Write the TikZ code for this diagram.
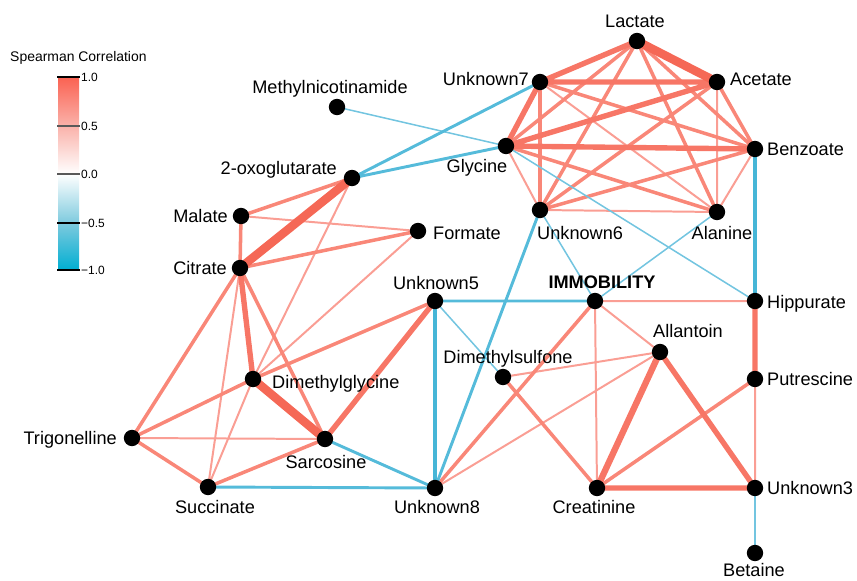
\documentclass[tikz,border=0pt]{standalone}
\usepackage{fontspec}
\setmainfont{Liberation Sans}
\usetikzlibrary{backgrounds}

\definecolor{redA}{RGB}{250,158,148}
\definecolor{redB}{RGB}{249,135,120}
\definecolor{redC}{RGB}{247,118,102}
\definecolor{redD}{RGB}{245,104,86}
\definecolor{blueA}{RGB}{115,197,224}
\definecolor{blueB}{RGB}{85,187,218}
\definecolor{blueC}{RGB}{70,182,215}
\definecolor{barTop}{RGB}{250,98,82}
\definecolor{barUp}{RGB}{250,178,170}
\definecolor{barLow}{RGB}{125,202,222}
\definecolor{barBot}{RGB}{0,174,210}

\begin{document}
\begin{tikzpicture}[x=0.03cm,y=-0.03cm,
		dot/.style={circle,fill=black,inner sep=0pt,minimum size=0.49cm},
		lab/.style={inner sep=0pt,text height=11pt,text depth=0pt,font=\fontsize{15.5}{18}\selectfont},
		tick/.style={inner sep=0pt,anchor=west,text height=7pt,text depth=0pt,font=\fontsize{10.2}{12}\selectfont},
		r1/.style={line width=1.7pt,color=redA},
		r2/.style={line width=3pt,color=redB},
		r3/.style={line width=4.6pt,color=redC},
		r4/.style={line width=7.3pt,color=redD},
		b1/.style={line width=1.3pt,color=blueA},
		b2/.style={line width=2.5pt,color=blueB},
		b3/.style={line width=3.5pt,color=blueC}]
				\useasboundingbox (0,0) rectangle (857,580);

				\node[inner sep=0pt,anchor=west,font=\fontsize{11.9}{14}\selectfont] (legtitle) at (10,58) {Spearman Correlation};
				\shade[top color=barTop,bottom color=barUp] (58,77) rectangle (79,126);
				\shade[top color=barUp,bottom color=white] (58,126) rectangle (79,174);
				\shade[top color=white,bottom color=barLow] (58,174) rectangle (79,223);
				\shade[top color=barLow,bottom color=barBot] (58,223) rectangle (79,270);
				\draw[line width=1.6pt] (57,77) -- (80,77);
				\draw[line width=0.9pt,color=black!65] (57,126) -- (80,126);
				\draw[line width=0.9pt,color=black!65] (57,174) -- (80,174);
				\draw[line width=0.9pt] (57,223) -- (80,223);
				\draw[line width=1.6pt] (57,270) -- (80,270);
				\node[tick] (tk1) at (81,77) {1.0};
				\node[tick] (tk2) at (81,126) {0.5};
				\node[tick] (tk3) at (81,174) {0.0};
				\node[tick] (tk4) at (81,223) {−0.5};
				\node[tick] (tk5) at (81,270) {−1.0};

				\node[dot] (lac) at (637,41) {};
				\node[dot] (unk7) at (540,82) {};
				\node[dot] (ace) at (717,82) {};
				\node[dot] (mna) at (337,107) {};
				\node[dot] (gly) at (506,146) {};
				\node[dot] (ben) at (755,149) {};
				\node[dot] (oxo) at (352,178) {};
				\node[dot] (mal) at (241,216) {};
				\node[dot] (frm) at (418,231) {};
				\node[dot] (unk6) at (540,210) {};
				\node[dot] (ala) at (717,212) {};
				\node[dot] (cit) at (240,268) {};
				\node[dot] (unk5) at (435,301) {};
				\node[dot] (imm) at (595,301) {};
				\node[dot] (hip) at (755,301) {};
				\node[dot] (all) at (660,352) {};
				\node[dot] (dms) at (503,377) {};
				\node[dot] (put) at (755,379) {};
				\node[dot] (dmg) at (253,379) {};
				\node[dot] (tri) at (132,438) {};
				\node[dot] (sar) at (325,439) {};
				\node[dot] (suc) at (208,487) {};
				\node[dot] (unk8) at (435,488) {};
				\node[dot] (cre) at (597,488) {};
				\node[dot] (unk3) at (755,488) {};
				\node[dot] (bet) at (755,553) {};

				\node[lab] (lac-t) at (635,21) {Lactate};
				\node[lab,anchor=east] (unk7-t) at (529,79) {Unknown7};
				\node[lab,anchor=west] (ace-t) at (730,79) {Acetate};
				\node[lab] (mna-t) at (330,87) {Methylnicotinamide};
				\node[lab] (gly-t) at (477,166) {Glycine};
				\node[lab,anchor=west] (ben-t) at (767,149) {Benzoate};
				\node[lab,anchor=east] (oxo-t) at (337,168) {2-oxoglutarate};
				\node[lab,anchor=east] (mal-t) at (228,216) {Malate};
				\node[lab,anchor=west] (frm-t) at (433,233) {Formate};
				\node[lab,anchor=west] (unk6-t) at (537,233) {Unknown6};
				\node[lab] (ala-t) at (722,233) {Alanine};
				\node[lab,anchor=east] (cit-t) at (227,268) {Citrate};
				\node[lab] (unk5-t) at (436,283) {Unknown5};
				\node[lab,font=\fontsize{15.5}{18}\selectfont\bfseries] (imm-t) at (602,282) {IMMOBILITY};
				\node[lab,anchor=west] (hip-t) at (767,302) {Hippurate};
				\node[lab] (all-t) at (688,331) {Allantoin};
				\node[lab] (dms-t) at (508,357) {Dimethylsulfone};
				\node[lab,anchor=west] (put-t) at (767,379) {Putrescine};
				\node[lab,anchor=west] (dmg-t) at (272,382) {Dimethylglycine};
				\node[lab,anchor=east] (tri-t) at (117,438) {Trigonelline};
				\node[lab] (sar-t) at (326,462) {Sarcosine};
				\node[lab] (suc-t) at (215,507) {Succinate};
				\node[lab] (unk8-t) at (437,507) {Unknown8};
				\node[lab] (cre-t) at (594,507) {Creatinine};
				\node[lab,anchor=west] (unk3-t) at (767,488) {Unknown3};
				\node[lab] (bet-t) at (754,570) {Betaine};

				\begin{scope}[on background layer]
				\draw[r1] (unk7.center) -- (ala.center)
					(ace.center) -- (ala.center)
					(gly.center) -- (unk6.center)
					(ben.center) -- (ala.center)
					(unk6.center) -- (ala.center);
				\draw[r2] (unk7.center) -- (unk6.center)
					(lac.center) -- (gly.center)
					(lac.center) -- (unk6.center)
					(lac.center) -- (ala.center)
					(lac.center) -- (ben.center)
					(unk7.center) -- (ben.center)
					(ace.center) -- (unk6.center)
					(ace.center) -- (ben.center)
					(gly.center) -- (ala.center)
					(ben.center) -- (unk6.center);
				\draw[r3] (lac.center) -- (unk7.center)
					(unk7.center) -- (ace.center)
					(unk7.center) -- (gly.center)
					(gly.center) -- (ben.center)
					(gly.center) -- (ace.center);
				\draw[r4] (lac.center) -- (ace.center);

				\draw[r1] (oxo.center) -- (dmg.center)
					(mal.center) -- (frm.center)
					(frm.center) -- (dmg.center)
					(cit.center) -- (suc.center)
					(dmg.center) -- (suc.center)
					(tri.center) -- (sar.center)
					(unk8.center) -- (all.center)
					(dms.center) -- (all.center)
					(imm.center) -- (hip.center)
					(imm.center) -- (all.center)
					(imm.center) -- (cre.center)
					(put.center) -- (unk3.center);
				\draw[r2] (oxo.center) -- (mal.center)
					(mal.center) -- (cit.center)
					(cit.center) -- (frm.center)
					(cit.center) -- (sar.center)
					(cit.center) -- (tri.center)
					(dmg.center) -- (unk5.center)
					(dmg.center) -- (tri.center)
					(tri.center) -- (suc.center)
					(suc.center) -- (sar.center)
					(unk8.center) -- (imm.center)
					(dms.center) -- (cre.center)
					(cre.center) -- (put.center);
				\draw[r3] (cit.center) -- (dmg.center)
					(sar.center) -- (unk5.center)
					(all.center) -- (unk3.center)
					(cre.center) -- (unk3.center)
					(hip.center) -- (put.center);
				\draw[r3,line width=5.4pt] (all.center) -- (cre.center);
				\draw[r4] (oxo.center) -- (cit.center)
					(dmg.center) -- (sar.center);

				\draw[b1] (mna.center) -- (gly.center)
					(gly.center) -- (hip.center)
					(unk6.center) -- (imm.center)
					(ala.center) -- (imm.center)
					(unk5.center) -- (dms.center)
					(unk3.center) -- (bet.center);
				\draw[b2] (unk7.center) -- (oxo.center)
					(gly.center) -- (oxo.center)
					(unk6.center) -- (unk8.center)
					(unk5.center) -- (imm.center)
					(sar.center) -- (unk8.center)
					(suc.center) -- (unk8.center);
				\draw[b3] (ben.center) -- (hip.center)
					(unk5.center) -- (unk8.center);
				\end{scope}

			\end{tikzpicture}
\end{document}
